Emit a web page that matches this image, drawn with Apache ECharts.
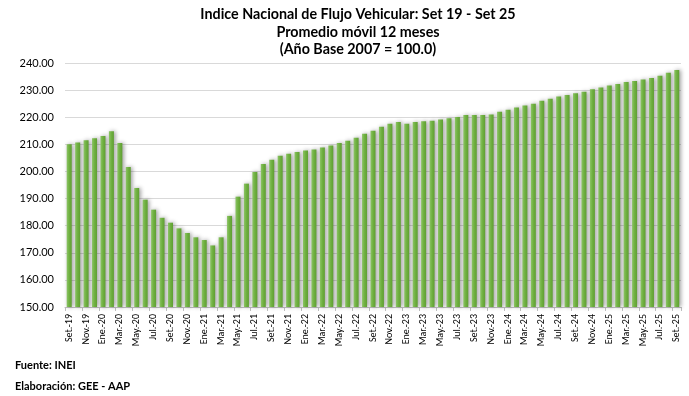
<!DOCTYPE html>
<html><head><meta charset="utf-8">
<script src="https://cdn.jsdelivr.net/npm/echarts@6/dist/echarts.min.js"></script>
<style>html,body{margin:0;padding:0;background:#fff}#c{width:689px;height:396px}</style>
</head><body><div id="c"></div>
<script>
const categories = [
 'Set.-19','Oct.-19','Nov.-19','Dic.-19',
 'Ene.-20','Feb.-20','Mar.-20','Abr.-20','May.-20','Jun.-20','Jul.-20','Ago.-20','Set.-20','Oct.-20','Nov.-20','Dic.-20',
 'Ene.-21','Feb.-21','Mar.-21','Abr.-21','May.-21','Jun.-21','Jul.-21','Ago.-21','Set.-21','Oct.-21','Nov.-21','Dic.-21',
 'Ene.-22','Feb.-22','Mar.-22','Abr.-22','May.-22','Jun.-22','Jul.-22','Ago.-22','Set.-22','Oct.-22','Nov.-22','Dic.-22',
 'Ene.-23','Feb.-23','Mar.-23','Abr.-23','May.-23','Jun.-23','Jul.-23','Ago.-23','Set.-23','Oct.-23','Nov.-23','Dic.-23',
 'Ene.-24','Feb.-24','Mar.-24','Abr.-24','May.-24','Jun.-24','Jul.-24','Ago.-24','Set.-24','Oct.-24','Nov.-24','Dic.-24',
 'Ene.-25','Feb.-25','Mar.-25','Abr.-25','May.-25','Jun.-25','Jul.-25','Ago.-25','Set.-25'
];
const indexValues = [
 210.0,210.7,211.5,212.2,
 213.1,214.8,210.5,201.6,193.9,189.6,185.9,182.9,181.1,179.0,177.3,175.7,
 174.7,172.7,175.7,183.6,190.7,195.5,199.8,202.7,204.3,205.8,206.5,207.2,
 207.7,208.1,208.8,209.6,210.5,211.3,212.4,213.9,215.0,216.5,217.6,218.2,
 217.6,218.2,218.5,218.7,219.2,219.6,220.1,220.8,220.8,220.8,221.0,222.0,
 222.8,223.6,224.3,225.0,226.1,226.8,227.6,228.2,228.8,229.4,230.3,231.0,
 231.7,232.3,233.0,233.4,233.9,234.5,235.3,236.4,237.4
];
const titleLines = ['Indice Nacional de Flujo Vehicular: Set 19 - Set 25','Promedio móvil 12 meses','(Año Base 2007 = 100.0)'];
const footerLines = ['Fuente: INEI','Elaboración: GEE - AAP'];

const chart = echarts.init(document.getElementById('c'), null, {renderer:'canvas'});
const font = 'Lato, "Open Sans", sans-serif';
const narrow = 'Carlito, "Liberation Sans Narrow", sans-serif';
chart.setOption({
  animation:false,
  backgroundColor:'#fff',
  title:{
    text: titleLines.join('\n'),
    left: 353, textAlign:'center', top:1,
    textStyle:{fontFamily:font, fontWeight:'bold', fontSize:14.3, lineHeight:17.5, color:'#000'}
  },
  grid:{left:65, right:8, top:63, bottom:89, containLabel:false},
  xAxis:{
    type:'category', data:categories, boundaryGap:true,
    axisLine:{lineStyle:{color:'#bfbfbf', width:1}},
    axisTick:{show:true, interval:1, length:4, lineStyle:{color:'#bfbfbf'}},
    axisLabel:{interval:1, rotate:90, fontFamily:narrow, fontSize:10, color:'#000', margin:7}
  },
  yAxis:{
    type:'value', min:150, max:240, interval:10,
    axisLine:{show:false}, axisTick:{show:false},
    splitLine:{lineStyle:{color:'#d9d9d9', width:1}},
    axisLabel:{formatter:v=>v.toFixed(2), fontFamily:font, fontSize:11, color:'#000', margin:11}
  },
  series:[{
    type:'bar', data:indexValues, barWidth:5,
    itemStyle:{
      color:new echarts.graphic.LinearGradient(0,0,1,0,[
        {offset:0,color:'#8cc466'},{offset:0.5,color:'#6fb040'},{offset:1,color:'#5f9e33'}]),
      shadowColor:'rgba(0,0,0,0.4)', shadowBlur:4, shadowOffsetX:1.5, shadowOffsetY:0
    }
  }],
  graphic:[
    {type:'text', left:15, top:360, style:{text:footerLines[0], font:'bold 11px '+font, fill:'#000'}},
    {type:'text', left:15, top:381, style:{text:footerLines[1], font:'bold 11px '+font, fill:'#000'}}
  ]
});
</script></body></html>
